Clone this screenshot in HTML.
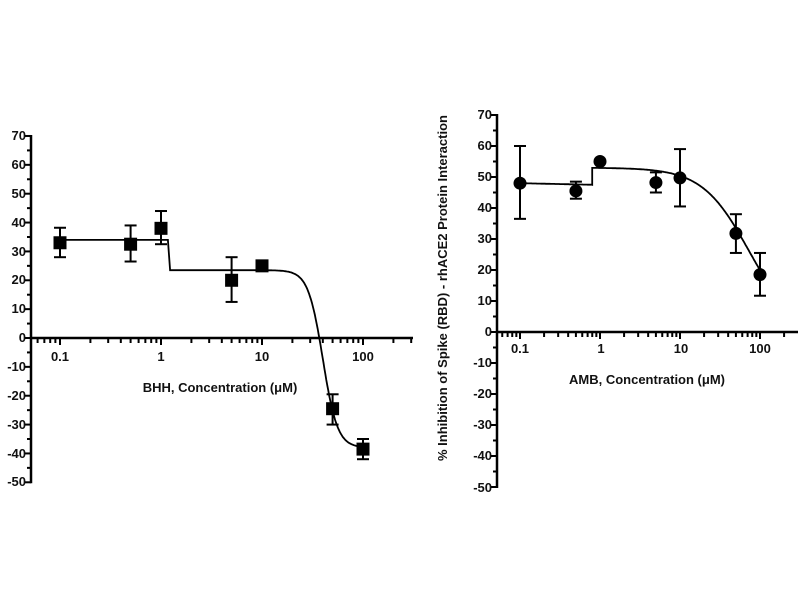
<!DOCTYPE html>
<html><head><meta charset="utf-8"><style>
body{margin:0;background:#fff}
svg text{font-family:"Liberation Sans",Arial,sans-serif;font-weight:bold;font-size:13px;fill:#111}
</style></head><body>
<svg id="s" width="800" height="600" xmlns="http://www.w3.org/2000/svg">
<g text-anchor="end">
<text x="26" y="140">70</text><text x="26" y="169">60</text><text x="26" y="198">50</text><text x="26" y="227">40</text><text x="26" y="256">30</text><text x="26" y="284">20</text><text x="26" y="313">10</text><text x="26" y="342">0</text><text x="26" y="371">-10</text><text x="26" y="400">-20</text><text x="26" y="429">-30</text><text x="26" y="458">-40</text><text x="26" y="486">-50</text>
</g>
<g text-anchor="middle">
<text x="60" y="361">0.1</text><text x="161" y="361">1</text><text x="262" y="361">10</text><text x="363" y="361">100</text>
<text x="220" y="392">BHH, Concentration (μM)</text>
</g>
<g text-anchor="end">
<text x="492" y="119">70</text><text x="492" y="150">60</text><text x="492" y="181">50</text><text x="492" y="212">40</text><text x="492" y="243">30</text><text x="492" y="274">20</text><text x="492" y="305">10</text><text x="492" y="336">0</text><text x="492" y="367">-10</text><text x="492" y="398">-20</text><text x="492" y="429">-30</text><text x="492" y="460">-40</text><text x="492" y="492">-50</text>
</g>
<g text-anchor="middle">
<text x="520" y="353">0.1</text><text x="601" y="353">1</text><text x="681" y="353">10</text><text x="760" y="353">100</text>
<text x="647" y="384">AMB, Concentration (μM)</text>
<text transform="translate(447,288) rotate(-90)">% Inhibition of Spike (RBD) - rhACE2 Protein Interaction</text>
</g>
</svg>
<script>
const s=document.getElementById('s');const NS='http://www.w3.org/2000/svg';
function el(t,a){const e=document.createElementNS(NS,t);for(const k in a)e.setAttribute(k,a[k]);s.appendChild(e);return e;}
function chart(c){
 const X=v=>c.x01+(Math.log10(v)+1)*c.dec, Y=v=>c.y0-v*c.u;
 el('line',{x1:c.ax,y1:Y(70)-1,x2:c.ax,y2:Y(-50)+1,stroke:'#000','stroke-width':2.5});
 el('line',{x1:c.ax,y1:c.y0,x2:c.xe,y2:c.y0,stroke:'#000','stroke-width':2.5});
 for(let v=-50;v<=70;v+=5){el('line',{x1:c.ax-(v%10==0?6:4),y1:Y(v),x2:c.ax,y2:Y(v),stroke:'#000','stroke-width':2});}
 for(let d=-2;d<=2;d++)for(let m=1;m<10;m++){const v=m*Math.pow(10,d);const x=X(v);if(x<c.ax+2||x>c.xe)continue;
  el('line',{x1:x,y1:c.y0,x2:x,y2:c.y0+(m==1?7:5),stroke:'#000','stroke-width':2});}
 let p='';c.f.forEach((fn,i)=>{const [a,b]=c.r[i];for(let k=0;k<=200;k++){const lv=Math.log10(a)+(Math.log10(b)-Math.log10(a))*k/200;const v=Math.pow(10,lv);p+=(p?'L':'M')+X(v).toFixed(1)+','+Y(fn(v)).toFixed(1);}});
 el('path',{d:p,fill:'none',stroke:'#000','stroke-width':1.8});
 c.d.forEach(([x,y,lo,hi])=>{const px=X(x);if(lo!=null){el('line',{x1:px,y1:Y(lo),x2:px,y2:Y(hi),stroke:'#000','stroke-width':2});
  [lo,hi].forEach(q=>el('line',{x1:px-6,y1:Y(q),x2:px+6,y2:Y(q),stroke:'#000','stroke-width':2}));}
  if(c.sq)el('rect',{x:px-6.5,y:Y(y)-6.5,width:13,height:13,fill:'#000'});else el('circle',{cx:px,cy:Y(y),r:6.5,fill:'#000'});});
}
chart({ax:31,xe:413,x01:60,dec:101,y0:338,u:2.886,sq:true,
 f:[v=>34,v=>-38+61.5/(1+Math.pow(v/40,6))],r:[[0.1,1.17],[1.23,100]],
 d:[[0.1,33,28,38.2],[0.5,32.5,26.5,39],[1,38,32.5,44],[5,20,12.5,28],[10,25],[50,-24.5,-30,-19.5],[100,-38.5,-42,-35]]});
chart({ax:497,xe:798,x01:520,dec:80,y0:332,u:3.1,sq:false,
 f:[v=>48-0.5*Math.log10(v/0.1)/0.9,v=>53/(1+Math.pow(v/71.6,1.5))],r:[[0.1,0.8],[0.8,100]],
 d:[[0.1,48,36.5,60],[0.5,45.5,43,48.5],[1,55],[5,48.2,45,51.5],[10,49.7,40.5,59],[50,31.8,25.5,38],[100,18.5,11.7,25.5]]});
</script>
</body></html>
